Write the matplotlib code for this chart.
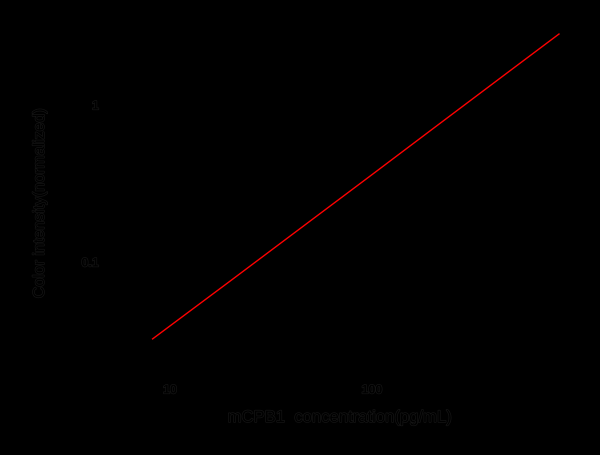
import numpy as np
import matplotlib
matplotlib.use('Agg')
import matplotlib.pyplot as plt
import matplotlib.patheffects as pe

# values (log-log)
conc = [8.2, 20, 50, 100, 200, 500, 843]
signal = [0.0324, 0.0762, 0.1845, 0.360, 0.705, 1.71, 2.83]

xticks = [10, 100]
xtick_labels = ['10', '100']
yticks = [0.1, 1]
ytick_labels = ['0.1', '1']

plt.rcParams['font.family'] = ['Liberation Sans', 'DejaVu Sans']

fig = plt.figure(figsize=(6, 4.55), dpi=100, facecolor='black')
ax = fig.add_axes([135/600, 1 - 365/455, 440/600, 340/455])
ax.set_facecolor('black')

ax.plot(conc, signal, color='red', lw=1.0)

ax.set_xscale('log')
ax.set_yscale('log')
ax.set_xlim(6.71, 1012)
ax.set_ylim(0.0221, 3.23)

# faint dark outline so the black text shows a little, like the reference
fx = [pe.withStroke(linewidth=1.0, foreground='#151515')]

ax.set_xticks(xticks)
ax.set_xticklabels(xtick_labels)
ax.set_yticks(yticks)
ax.set_yticklabels(ytick_labels)
ax.minorticks_off()
ax.tick_params(length=0, colors='black', labelsize=9)
ax.tick_params(axis='x', pad=14)
ax.tick_params(axis='y', pad=26)
for t in ax.get_xticklabels() + ax.get_yticklabels():
    t.set_path_effects(fx)
    t.set_fontweight('bold')

for s in ax.spines.values():
    s.set_visible(False)

ax.set_xlabel('mCPB1  concentration(pg/mL)', fontsize=12, color='black',
              path_effects=fx)
ax.xaxis.set_label_coords((340 - 135)/440, -(410 - 365)/340)
ax.set_ylabel('Color intensity(normalized)', fontsize=11.5, color='black',
              path_effects=fx)
ax.yaxis.set_label_coords(-(135 - 47)/440, (365 - 203)/340)

fig.savefig('out.png', facecolor='black')
